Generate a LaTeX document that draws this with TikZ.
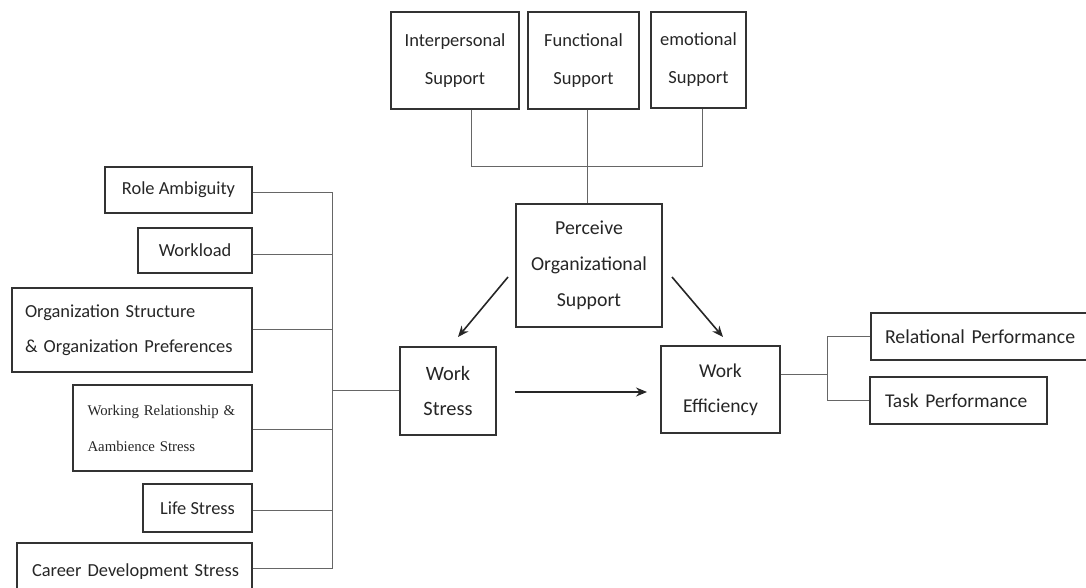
\documentclass[tikz,border=0pt]{standalone}
\usepackage{fontspec}
\setmainfont{Carlito}
\newfontfamily\serifbox{Liberation Serif}
\usetikzlibrary{arrows.meta}
\tikzset{
  box/.style={draw=black!80, line width=1.2pt, inner sep=0pt, align=center, font=\fontsize{18.4}{36}\selectfont, text=black!85},
  smallbox/.style={box, font=\fontsize{18.5}{38}\selectfont},
  midbox/.style={box, font=\fontsize{19.8}{36}\selectfont},
  conn/.style={draw=black!60, line width=1pt},
  arr/.style={draw=black!85, line width=1.6pt, -{Stealth[length=11pt,width=9pt]}}
}
\begin{document}
\begin{tikzpicture}[x=1pt,y=-1pt]
\useasboundingbox (0,0) rectangle (1086,588);
\clip (0,0) rectangle (1086,588);
% top support boxes
\node[smallbox, minimum width=128, minimum height=97] (ip) at (455,60.5) {Interpersonal\\Support};
\node[smallbox, minimum width=111, minimum height=97] (fn) at (583.5,60.5) {Functional\\Support};
\node[smallbox, minimum width=95, minimum height=96] (em) at (698.5,60) {emotional\\Support};
% center
\node[midbox, minimum width=146, minimum height=123] (pos) at (589,265.5) {Perceive\\Organizational\\Support};
\node[midbox, minimum width=96, minimum height=88, font=\fontsize{20.4}{35}\selectfont] (ws) at (448,391) {Work\\Stress};
\node[midbox, minimum width=119, minimum height=87, font=\fontsize{19.6}{35}\selectfont] (we) at (720.5,389.5) {Work\\Efficiency};
% right
\node[midbox, minimum width=221, minimum height=47, align=left, text width=193] (rp) at (981.5,336.5) {Relational Performance};
\node[midbox, minimum width=177, minimum height=47, align=left, text width=147, font=\fontsize{19.5}{36}\selectfont] (tp) at (958.5,400.5) {Task Performance};
% left
\node[box, minimum width=147, minimum height=46] (ra) at (178.5,190) {Role Ambiguity};
\node[box, minimum width=114, minimum height=45] (wl) at (195,250.5) {Workload};
\node[box, minimum width=240, minimum height=84, align=left, text width=214, font=\fontsize{18.4}{35}\selectfont] (os) at (132,330) {Organization Structure\\\& Organization Preferences};
\node[box, minimum width=179, minimum height=86, align=left, text width=150, font=\serifbox\fontsize{14.8}{36}\selectfont] (wr) at (162.5,428) {Working Relationship \&\\Aambience Stress};
\node[box, minimum width=109, minimum height=48] (ls) at (197.5,508) {Life Stress};
\node[box, minimum width=235, minimum height=57, align=left, text width=205, text depth=0pt] (cd) at (134.5,571.5) {\raisebox{2pt}{Career Development Stress}};
% coordinates
\coordinate (busx) at (332,0);
\coordinate (tl) at (471,167);
\coordinate (tr) at (702,167);
\coordinate (eb) at (827,374);
\coordinate (a1s) at (508,277);
\coordinate (a1e) at (458,337);
\coordinate (a2s) at (672,277);
\coordinate (a2e) at (723,337);
\coordinate (a3s) at (515,392);
\coordinate (a3e) at (647,392);
% left bus
\draw[conn] (ra.east |- 0,193) -- (busx |- 0,193) -- (busx |- 0,568) -- (cd.east |- 0,568);
\draw[conn] (wl.east |- 0,254) -- (busx |- 0,254);
\draw[conn] (os.east |- 0,329) -- (busx |- 0,329);
\draw[conn] (wr.east |- 0,429) -- (busx |- 0,429);
\draw[conn] (ls.east |- 0,510) -- (busx |- 0,510);
\draw[conn] (busx |- 0,390) -- (ws.west |- 0,390);
% top bracket
\draw[conn] (ip.south -| tl) -- (tl) -- (tr) -- (em.south -| tr);
\draw[conn] (fn.south -| 587,0) -- (pos.north -| 587,0);
% right bracket
\draw[conn] (we.east |- eb) -- (eb);
\draw[conn] (rp.west) -- (rp.west -| eb) -- (tp.west -| eb) -- (tp.west);
% arrows
\draw[arr] (a1s) -- (a1e);
\draw[arr] (a2s) -- (a2e);
\draw[arr] (a3s) -- (a3e);
\end{tikzpicture}
\end{document}
